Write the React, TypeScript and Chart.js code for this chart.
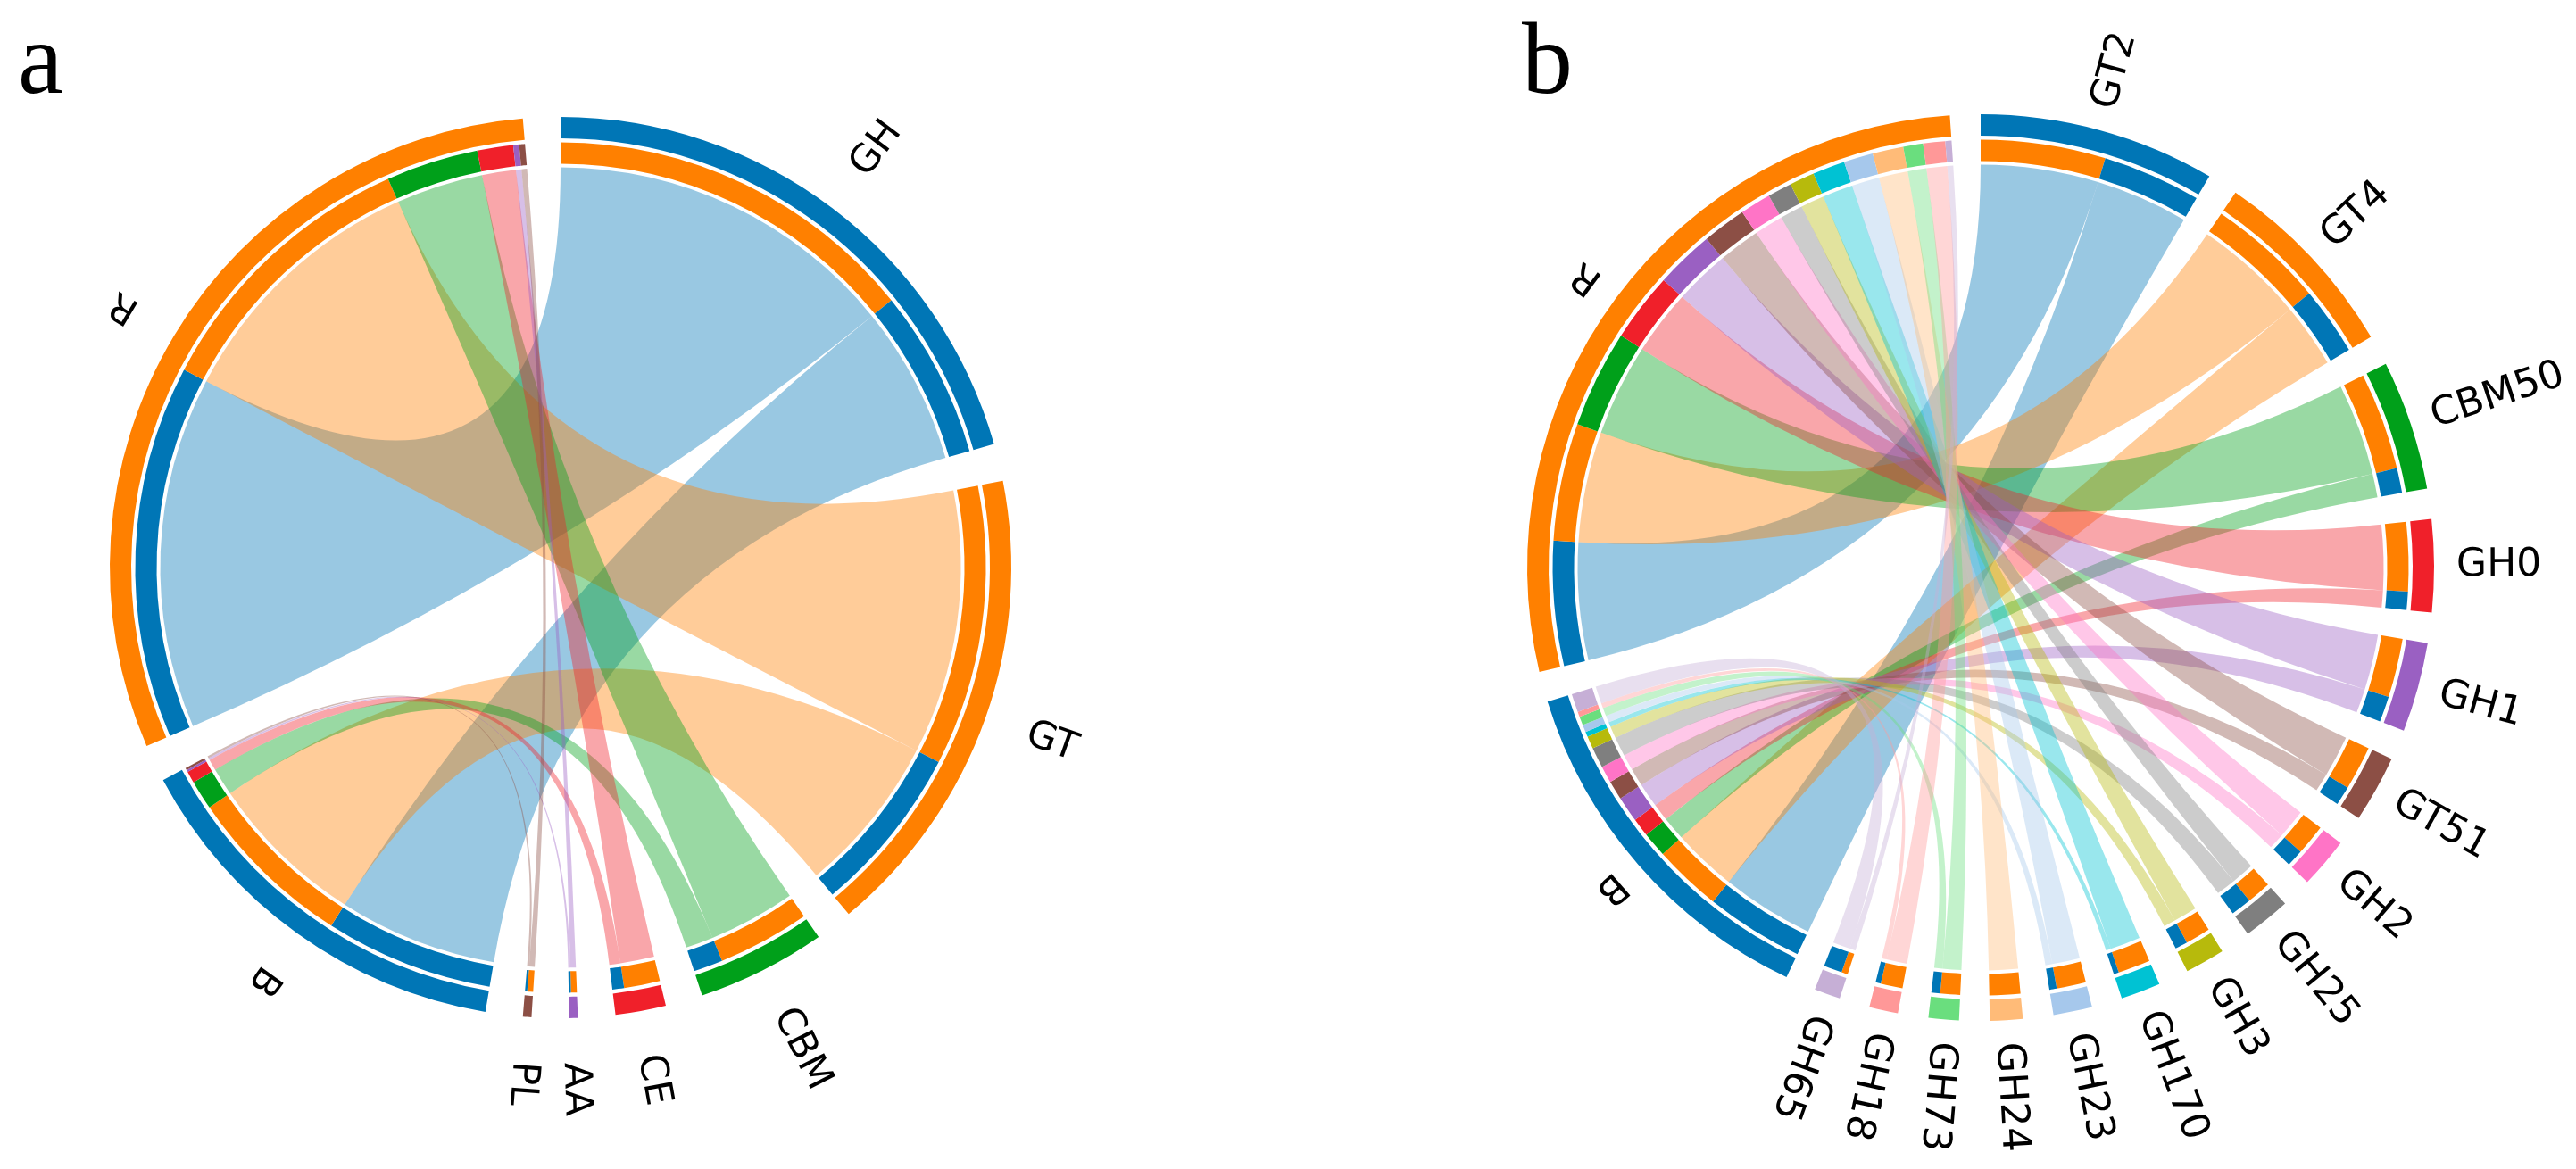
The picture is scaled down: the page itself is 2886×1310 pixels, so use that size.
import { useEffect, useRef } from "react";
import { Chart, ArcElement, DoughnutController } from "chart.js";

Chart.register(ArcElement, DoughnutController);

const PAGE_W = 2886;
const PAGE_H = 1310;
const PANEL_W = 1443;

// ---- panel a: CAZy classes ----
const classNames = ["GH", "GT", "CBM", "CE", "AA", "PL"];
const classRhizosphere = [51.0, 38.3, 12.6, 4.9, 0.8, 0.8];
const classBulk = [23.0, 23.0, 4.0, 1.6, 0.3, 0.3];
const classColors = ["#0076b6", "#ff8000", "#00a01a", "#f0202a", "#9a60c2", "#8c4f45"];

// ---- panel b: CAZy families ----
const familyNames = [
  "GT2", "GT4", "CBM50", "GH0", "GH1", "GT51", "GH2", "GH25",
  "GH3", "GH170", "GH23", "GH24", "GH73", "GH18", "GH65",
];
const familyRhizosphere = [17.0, 16.0, 13.3, 9.4, 8.0, 6.0, 4.2, 3.3, 3.4, 4.4, 4.0, 4.2, 2.7, 3.0, 0.85];
const familyBulk = [13.4, 9.3, 3.4, 2.5, 3.5, 2.6, 2.3, 2.8, 1.7, 0.7, 1.0, 0, 1.2, 0.7, 2.5];
const familyColors = [
  "#0076b6", "#ff8000", "#00a01a", "#f0202a", "#9a60c2", "#8c4f45", "#ff74c6", "#7f7f7f",
  "#b7ba0c", "#00c2d3", "#a6c8ec", "#ffbb78", "#6ade7e", "#ff9898", "#c6afd6",
];

// ---- habitats (bulk soil, rhizosphere) ----
const habitatNames = ["B", "R"];
const habitatColors = ["#0076b6", "#ff8000"];

const CLEAR = "rgba(0,0,0,0)";
const RING = 24;
const RING_SPACER = 4.5;
const RIBBON_INSET = 4;
const RIBBON_ALPHA = 0.4;

type PanelSpec = {
  letter: string;
  letterX: number;
  letterY: number;
  names: string[];
  rhizo: number[];
  bulk: number[];
  colors: string[];
  left: number;
  cx: number;
  cy: number;
  radius: number;
  gapDeg: number;
  labelOffset: number;
  fontSize: number;
};

const panelA: PanelSpec = {
  letter: "a", letterX: 20, letterY: 104,
  names: classNames, rhizo: classRhizosphere, bulk: classBulk, colors: classColors,
  left: 0, cx: 628, cy: 636, radius: 505, gapDeg: 4.8, labelOffset: 50, fontSize: 43,
};

const panelB: PanelSpec = {
  letter: "b", letterX: 262, letterY: 104,
  names: familyNames, rhizo: familyRhizosphere, bulk: familyBulk, colors: familyColors,
  left: PANEL_W, cx: 776, cy: 636, radius: 508, gapDeg: 3.9, labelOffset: 25, fontSize: 44,
};

function withAlpha(hex: string, a: number) {
  const n = parseInt(hex.slice(1), 16);
  return `rgba(${(n >> 16) & 255},${(n >> 8) & 255},${n & 255},${a})`;
}

const sum = (xs: number[]) => xs.reduce((s, v) => s + v, 0);

function buildConfig(spec: PanelSpec): any {
  const { names, rhizo, bulk, colors } = spec;
  const n = names.length;
  const nodeLabels = [...names, ...habitatNames];
  const nodeColors = [...colors, ...habitatColors];
  const nodeValues = [...rhizo.map((r, i) => r + bulk[i]), sum(bulk), sum(rhizo)];
  const nodeCount = nodeValues.length;
  const total = sum(nodeValues);
  const gap = (spec.gapDeg * total) / (360 - nodeCount * spec.gapDeg);

  // outer ring: one arc per node followed by a blank gap
  const outer: number[] = [];
  const outerColors: string[] = [];
  nodeValues.forEach((v, k) => {
    outer.push(v, gap);
    outerColors.push(nodeColors[k], CLEAR);
  });

  // inner ring: each node split by its partners
  const inner: number[] = [];
  const innerColors: string[] = [];
  const classSlot: { r: number; b: number }[] = [];
  for (let i = 0; i < n; i++) {
    classSlot.push({ r: inner.length, b: inner.length + 1 });
    inner.push(rhizo[i], bulk[i], gap);
    innerColors.push(habitatColors[1], habitatColors[0], CLEAR);
  }
  const bulkSlot: number[] = [];
  for (let i = 0; i < n; i++) {
    bulkSlot.push(inner.length);
    inner.push(bulk[i]);
    innerColors.push(colors[i]);
  }
  inner.push(gap);
  innerColors.push(CLEAR);
  const rhizoSlot: number[] = [];
  for (let i = 0; i < n; i++) {
    rhizoSlot.push(inner.length);
    inner.push(rhizo[i]);
    innerColors.push(colors[i]);
  }
  inner.push(gap);
  innerColors.push(CLEAR);

  const links: { from: number; to: number; color: string }[] = [];
  for (let i = 0; i < n; i++) {
    if (rhizo[i] > 0) links.push({ from: classSlot[i].r, to: rhizoSlot[i], color: withAlpha(colors[i], RIBBON_ALPHA) });
    if (bulk[i] > 0) links.push({ from: classSlot[i].b, to: bulkSlot[i], color: withAlpha(colors[i], RIBBON_ALPHA) });
  }

  const chordLayer = {
    id: "chordLayer",
    beforeDatasetsDraw(chart: any) {
      const arcs = chart.getDatasetMeta(2).data as any[];
      const ctx = chart.ctx as CanvasRenderingContext2D;
      ctx.save();
      links.forEach((link) => {
        const a = arcs[link.from];
        const b = arcs[link.to];
        const x0 = a.x;
        const y0 = a.y;
        const r = a.innerRadius - RIBBON_INSET;
        ctx.beginPath();
        ctx.arc(x0, y0, r, a.startAngle, a.endAngle);
        ctx.quadraticCurveTo(x0, y0, x0 + r * Math.cos(b.startAngle), y0 + r * Math.sin(b.startAngle));
        ctx.arc(x0, y0, r, b.startAngle, b.endAngle);
        ctx.quadraticCurveTo(x0, y0, x0 + r * Math.cos(a.startAngle), y0 + r * Math.sin(a.startAngle));
        ctx.closePath();
        ctx.fillStyle = link.color;
        ctx.fill();
      });
      ctx.restore();
    },
    afterDraw(chart: any) {
      const arcs = chart.getDatasetMeta(0).data as any[];
      const ctx = chart.ctx as CanvasRenderingContext2D;
      ctx.save();
      ctx.fillStyle = "#000";
      ctx.font = `${spec.fontSize}px "DejaVu Sans"`;
      ctx.textAlign = "left";
      ctx.textBaseline = "middle";
      nodeLabels.forEach((label, k) => {
        const arc = arcs[2 * k];
        const mid = (arc.startAngle + arc.endAngle) / 2;
        const r = arc.outerRadius + spec.labelOffset;
        ctx.save();
        ctx.translate(arc.x + r * Math.cos(mid), arc.y + r * Math.sin(mid));
        ctx.rotate(mid);
        ctx.fillText(label, 0, 0);
        ctx.restore();
      });
      ctx.font = `114px "Liberation Serif"`;
      ctx.textBaseline = "alphabetic";
      ctx.fillText(spec.letter, spec.letterX, spec.letterY);
      ctx.restore();
    },
  };

  const R = spec.radius;
  const innerR = R - (2 * RING + RING_SPACER);

  return {
    type: "doughnut",
    data: {
      labels: nodeLabels.flatMap((l) => [l, ""]),
      datasets: [
        { data: outer, backgroundColor: outerColors, borderWidth: 0, weight: RING },
        { data: outer, backgroundColor: outer.map(() => CLEAR), borderWidth: 0, weight: RING_SPACER },
        { data: inner, backgroundColor: innerColors, borderWidth: 0, weight: RING },
      ],
    },
    options: {
      responsive: false,
      animation: false,
      devicePixelRatio: 1,
      events: [],
      cutout: `${(innerR / R) * 100}%`,
      layout: {
        padding: {
          left: spec.cx - R,
          top: spec.cy - R,
          right: PANEL_W - spec.cx - R,
          bottom: PAGE_H - spec.cy - R,
        },
      },
      plugins: { legend: { display: false }, tooltip: { enabled: false } },
    },
    plugins: [chordLayer],
  };
}

function ChordPanel({ spec }: { spec: PanelSpec }) {
  const ref = useRef<HTMLCanvasElement>(null);
  useEffect(() => {
    const chart = new Chart(ref.current as HTMLCanvasElement, buildConfig(spec));
    return () => chart.destroy();
  }, [spec]);
  return (
    <canvas
      ref={ref}
      width={PANEL_W}
      height={PAGE_H}
      style={{ position: "absolute", left: spec.left, top: 0, width: PANEL_W, height: PAGE_H, display: "block" }}
    />
  );
}

export default function App() {
  return (
    <div
      style={{
        position: "fixed",
        left: 0,
        top: 0,
        width: PAGE_W,
        height: PAGE_H,
        background: "#fff",
        overflow: "hidden",
      }}
    >
      <ChordPanel spec={panelA} />
      <ChordPanel spec={panelB} />
    </div>
  );
}
